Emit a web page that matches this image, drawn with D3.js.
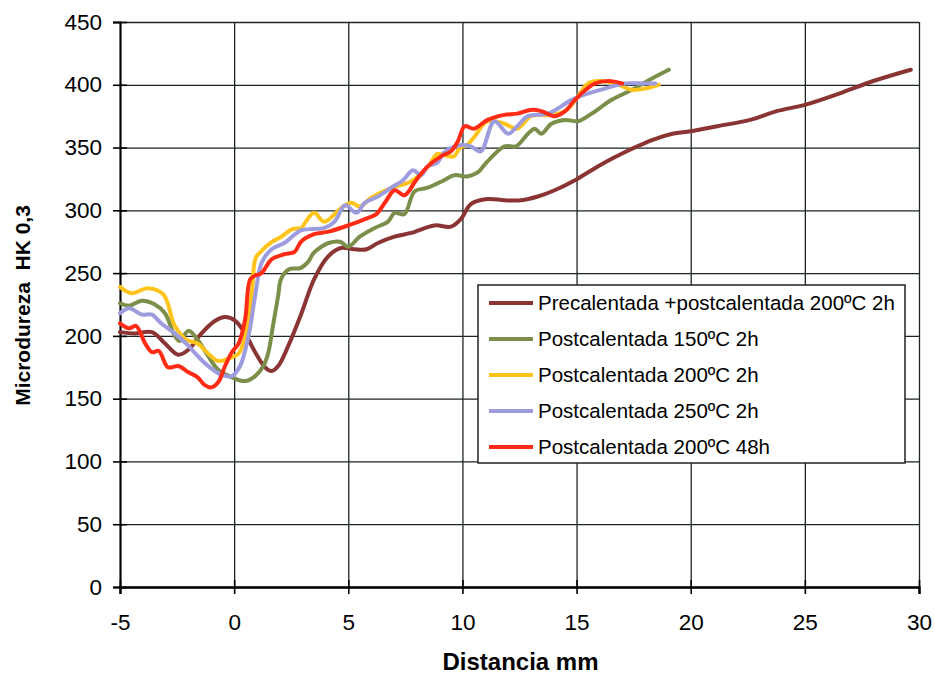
<!DOCTYPE html>
<meta charset="utf-8">
<style>

body { margin: 0; background: #fff; }

text {
  font-family: "Liberation Sans", Arial, sans-serif;
  fill: #000;
}

.grid line {
  stroke: #1c2424;
  stroke-width: 1.3px;
}

.serie {
  fill: none;
  stroke-width: 4px;
  stroke-linejoin: round;
  stroke-linecap: round;
}

</style>
<svg width="935" height="674"></svg>
<script src="https://cdn.jsdelivr.net/npm/d3@7"></script>
<script>

var xTicks = [-5, 0, 5, 10, 15, 20, 25, 30];
var yTicks = [0, 50, 100, 150, 200, 250, 300, 350, 400, 450];

var names = [
  "Precalentada +postcalentada 200ºC 2h",
  "Postcalentada 150ºC 2h",
  "Postcalentada 200ºC 2h",
  "Postcalentada 250ºC 2h",
  "Postcalentada 200ºC 48h"
];
var colors = ["#8a3434", "#7b8f4a", "#ffc41c", "#9c9cdf", "#ff2b14"];

// [distancia mm, HK 0,3]
var pre200 = [[-5,203],[-4.35,202],[-3.6,203],[-3.03,194],[-2.45,185],[-2.0,189],[-1.43,202],[-0.83,212],
  [-0.4,215],[0.05,212],[0.48,202],[0.92,187],[1.35,175],[1.64,172],[1.93,176],[2.37,192],[2.95,218],
  [3.5,245],[4.1,263],[4.68,270],[5.26,269],[5.8,269],[6.3,274],[7.03,279],[7.75,282],[8.77,288],
  [9.5,287],[9.93,293],[10.37,305],[11.1,309],[11.84,308],[12.57,308],[13.3,311],[14.04,316],
  [14.93,324],[15.66,332],[16.54,341],[17.43,349],[18.3,356],[19.2,361],[20,363],[21.16,367],
  [22.6,372],[23.77,379],[25,384],[26.5,393],[28,403],[29.64,412]];

var post150 = [[-5,226],[-4.6,224],[-4.05,228],[-3.47,225],[-3.03,218],[-2.6,200],[-2.38,196],[-2.0,204],
  [-1.6,197],[-1.14,184],[-0.7,173],[-0.1,167],[0.48,164],[0.92,168],[1.28,176],[1.5,187],[1.7,208],
  [1.93,232],[2.05,245],[2.4,253],[2.9,254],[3.24,259],[3.48,266],[3.82,271],[4.13,274],[4.64,275],
  [5,271],[5.5,279],[6.16,286],[6.74,291],[7.03,298],[7.46,297],[7.9,315],[8.48,318],[9.2,324],
  [9.64,328],[10.2,327],[10.65,330],[11.1,339],[11.84,351],[12.35,351],[12.87,361],[13.16,365],
  [13.46,361],[13.9,369],[14.5,372],[15.07,371],[15.66,377],[16.54,388],[17.43,396],[18.3,405],[19.04,412]];

var post200 = [[-5,239],[-4.5,234],[-3.76,238],[-3.1,233],[-2.6,208],[-2.1,197],[-1.6,194],[-1.14,186],
  [-0.7,180],[-0.25,182],[0.2,186],[0.48,200],[0.77,234],[0.94,262],[1.16,267],[1.67,275],[2.07,279],
  [2.54,285],[2.95,286],[3.1,290],[3.5,298],[3.95,291],[4.7,302],[5.14,306],[5.5,303],[6,310],
  [6.9,318],[7.75,323],[8.5,335],[8.9,345],[9.2,344],[9.63,343],[9.9,350],[10.2,352],[10.5,358],
  [11.1,371],[11.84,369],[12.4,365],[13,375],[13.75,376],[14.5,379],[15.07,391],[15.5,401],
  [15.96,403],[16.7,401],[17.4,396],[18,397],[18.6,400]];

var post250 = [[-5,218],[-4.6,222],[-4.05,217],[-3.6,217],[-3.2,210],[-2.6,202],[-2.0,192],[-1.6,184],
  [-1.14,176],[-0.56,169],[-0.1,168],[0.26,176],[0.63,200],[0.92,232],[1.2,258],[1.64,269],[2.2,274],
  [2.93,284],[3.95,286],[4.4,291],[4.86,304],[5.36,298],[5.72,306],[6.3,311],[6.88,318],[7.4,324],
  [7.83,332],[8.19,328],[8.48,335],[8.9,338],[9.2,346],[9.93,352],[10.37,351],[10.8,347],[11.4,371],
  [12,361],[12.4,367],[12.87,375],[13.75,377],[14.34,383],[14.78,388],[15.5,393],[16.25,397],
  [17.1,401],[18,401],[18.45,401]];

var post200h48 = [[-5,210],[-4.6,206],[-4.3,208],[-3.9,194],[-3.6,187],[-3.3,188],[-2.9,175],[-2.45,176],
  [-2.0,171],[-1.6,167],[-1.3,161],[-1.0,159],[-0.7,163],[-0.4,176],[-0.1,187],[0.2,194],[0.48,213],
  [0.7,245],[0.92,248],[1.2,250],[1.64,261],[2.2,265],[2.65,267],[2.93,275],[3.5,281],[4.13,283],
  [5,288],[5.87,294],[6.23,297],[6.6,306],[7.03,316],[7.46,312],[7.97,324],[8.48,335],[9.06,343],
  [9.5,347],[9.8,355],[10.1,367],[10.5,365],[11.1,372],[11.84,376],[12.4,377],[13,380],[13.46,379],
  [14.04,375],[14.5,379],[14.93,388],[15.4,396],[15.8,401],[16.4,403],[17,401]];

var series = [pre200, post150, post200, post250, post200h48];

var svg = d3.select("svg"),
    margin = {top: 22, right: 16, bottom: 87, left: 120},
    width = +svg.attr("width") - margin.left - margin.right,
    height = +svg.attr("height") - margin.top - margin.bottom;

var x = d3.scaleLinear().domain([-5, 30]).range([0, width]);
var y = d3.scaleLinear().domain([0, 450]).range([height, 0]);

var g = svg.append("g").attr("transform", "translate(" + margin.left + "," + margin.top + ")");

// rejilla
g.append("g")
    .attr("class", "grid")
    .call(d3.axisLeft(y).tickValues(yTicks).tickSize(-width).tickFormat(""))
    .call(function(s) { s.select(".domain").remove(); });

g.append("g")
    .attr("class", "grid")
    .call(d3.axisBottom(x).tickValues(xTicks).tickSize(height).tickFormat(""))
    .call(function(s) { s.select(".domain").remove(); });

// ejes
var yAxis = g.append("g")
    .call(d3.axisLeft(y).tickValues(yTicks).tickSize(7).tickPadding(11).tickFormat(String));
yAxis.selectAll(".tick line").attr("x2", -7).attr("x1", 7).attr("stroke", "#000").attr("stroke-width", 1.6);
yAxis.select(".domain").attr("stroke", "#000").attr("stroke-width", 2);
yAxis.selectAll("text").style("font-size", "22.5px");

var xAxis = g.append("g")
    .attr("transform", "translate(0," + height + ")")
    .call(d3.axisBottom(x).tickValues(xTicks).tickSize(7).tickPadding(20).tickFormat(String));
xAxis.selectAll(".tick line").attr("y1", -7).attr("y2", 7).attr("stroke", "#000").attr("stroke-width", 1.6);
xAxis.select(".domain").attr("stroke", "#000").attr("stroke-width", 2.4);
xAxis.selectAll("text").style("font-size", "22.5px");

// series
var line = d3.line()
    .x(function(d) { return x(d[0]); })
    .y(function(d) { return y(d[1]); })
    .curve(d3.curveCatmullRom.alpha(0.5));

g.selectAll(".serie")
    .data(series)
  .enter().append("path")
    .attr("class", "serie")
    .attr("stroke", function(d, i) { return colors[i]; })
    .attr("d", line);

// titulos
svg.append("text")
    .attr("x", margin.left + width / 2 + 1)
    .attr("y", 670)
    .attr("text-anchor", "middle")
    .style("font-size", "24px")
    .style("font-weight", "bold")
    .text("Distancia mm");

svg.append("text")
    .attr("transform", "translate(30," + (margin.top + height / 2 + 1) + ")rotate(-90)")
    .attr("text-anchor", "middle")
    .style("font-size", "21px")
    .style("font-weight", "bold")
    .style("white-space", "pre")
    .text("Microdureza  HK 0,3");

// leyenda
var legend = svg.append("g").attr("transform", "translate(478,285)");

legend.append("rect")
    .attr("width", 427)
    .attr("height", 178)
    .attr("fill", "#fff")
    .attr("stroke", "#222")
    .attr("stroke-width", 1.5);

var item = legend.selectAll(".item")
    .data(names)
  .enter().append("g")
    .attr("class", "item")
    .attr("transform", function(d, i) { return "translate(0," + (18 + i * 36) + ")"; });

item.append("line")
    .attr("x1", 11).attr("x2", 55)
    .attr("stroke", function(d, i) { return colors[i]; })
    .attr("stroke-width", 4);

item.append("text")
    .attr("x", 60)
    .attr("dy", "0.36em")
    .style("font-size", "20.5px")
    .text(function(d) { return d; });

</script>
